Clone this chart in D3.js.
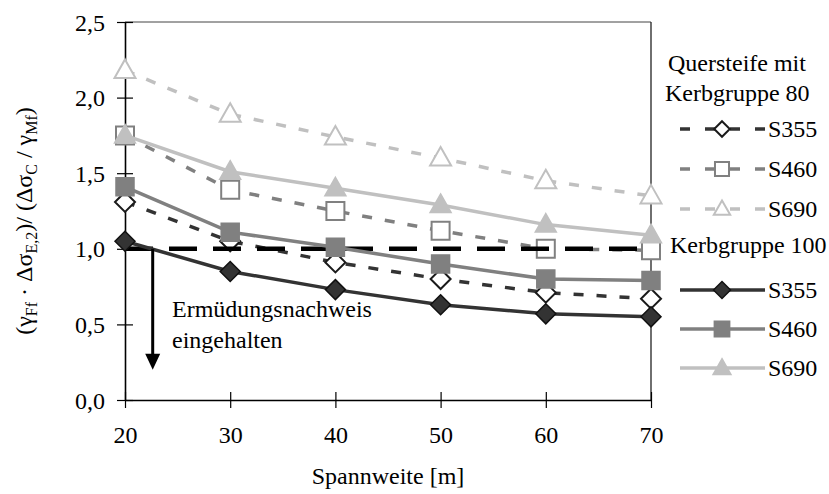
<!DOCTYPE html>
<html>
<head>
<meta charset="utf-8">
<script src="https://cdn.jsdelivr.net/npm/d3@7"></script>
<style>
  body { margin: 0; background: #fff; }
  svg { display: block; }
</style>
</head>
<body>
<svg id="chart" width="829" height="494" font-family="Liberation Serif"></svg>
<script>
// Spannweiten (x-Achse)
const spans = [20, 30, 40, 50, 60, 70];
const yTicks = [0, 0.5, 1.0, 1.5, 2.0, 2.5];

// Quersteife mit Kerbgruppe 80 (offene Marker, gestrichelt)
const kg80_S355 = [1.31, 1.05, 0.91, 0.80, 0.71, 0.67];
const kg80_S460 = [1.75, 1.39, 1.25, 1.12, 1.00, 0.99];
const kg80_S690 = [2.18, 1.89, 1.74, 1.60, 1.45, 1.35];
// Kerbgruppe 100 (gefuellte Marker, durchgezogen)
const kg100_S355 = [1.05, 0.85, 0.73, 0.63, 0.57, 0.55];
const kg100_S460 = [1.41, 1.11, 1.01, 0.90, 0.80, 0.79];
const kg100_S690 = [1.75, 1.51, 1.40, 1.29, 1.16, 1.09];

const limit = 1.0;
const arrowEnd = 0.2;

const FONT = "Liberation Serif";
const FS = 24;

const svg = d3.select("#chart");
const x = d3.scaleLinear().domain([20, 70]).range([125, 651]);
const y = d3.scaleLinear().domain([0, 2.5]).range([400, 22]);

const dark = "#333333", mid = "#808080", light = "#c0c0c0";

const series = [
  { name: "S355", values: kg80_S355, color: dark, stroke: "#1a1a1a", shape: "diamond", open: true },
  { name: "S460", values: kg80_S460, color: mid, stroke: mid, shape: "square", open: true },
  { name: "S690", values: kg80_S690, color: light, stroke: light, shape: "triangle", open: true },
  { name: "S355", values: kg100_S355, color: dark, stroke: "#111", shape: "diamond", open: false },
  { name: "S460", values: kg100_S460, color: mid, stroke: mid, shape: "square", open: false },
  { name: "S690", values: kg100_S690, color: light, stroke: light, shape: "triangle", open: false }
];

function shapePath(shape, s) {
  if (shape === "diamond") return `M0,${-10 * s}L${10 * s},0L0,${10 * s}L${-10 * s},0Z`;
  if (shape === "square") return `M${-9 * s},${-9 * s}H${9 * s}V${9 * s}H${-9 * s}Z`;
  return `M0,${-11 * s}L${10.5 * s},${7.5 * s}L${-10.5 * s},${7.5 * s}Z`;
}

function label(px, py, t) {
  return svg.append("text").attr("x", px).attr("y", py)
    .attr("font-family", FONT).attr("font-size", FS).attr("fill", "#000").text(t);
}

// Rahmen
svg.append("line").attr("x1", x(20)).attr("x2", x(70)).attr("y1", y(2.5)).attr("y2", y(2.5))
  .attr("stroke", "#444").attr("stroke-width", 1);
svg.append("line").attr("x1", x(70)).attr("x2", x(70)).attr("y1", y(2.5)).attr("y2", y(0))
  .attr("stroke", "#222").attr("stroke-width", 1.3);

// Achsen
const yAxis = d3.axisLeft(y).tickValues(yTicks).tickSize(0)
  .tickFormat(d => d3.format(".1f")(d).replace(".", ","));
const gy = svg.append("g").attr("transform", `translate(${x(20)},0)`).call(yAxis)
  .attr("font-family", FONT);
gy.select(".domain").attr("stroke", "#000").attr("stroke-width", 1.6);
gy.selectAll(".tick text").attr("x", -20).attr("dy", "0.34em")
  .attr("font-family", FONT).attr("font-size", FS).attr("fill", "#000");
gy.selectAll(".tick").append("line").attr("x1", -8).attr("x2", 8).attr("stroke", "#000").attr("stroke-width", 1.2);

const xAxis = d3.axisBottom(x).tickValues(spans).tickSize(0).tickFormat(d3.format("d"));
const gx = svg.append("g").attr("transform", `translate(0,${y(0)})`).call(xAxis)
  .attr("font-family", FONT);
gx.select(".domain").attr("stroke", "#000").attr("stroke-width", 1.6);
gx.selectAll(".tick text").attr("y", 43).attr("dy", 0)
  .attr("font-family", FONT).attr("font-size", FS).attr("fill", "#000");
gx.selectAll(".tick").append("line").attr("y1", -8).attr("y2", 8).attr("stroke", "#000").attr("stroke-width", 1.2);

const line = d3.line().x((d, i) => x(spans[i])).y(d => y(d));

function drawSeries(s) {
  svg.append("path").datum(s.values).attr("d", line)
    .attr("fill", "none").attr("stroke", s.color).attr("stroke-width", 3.5)
    .attr("stroke-dasharray", s.open ? "10,13" : null);
  svg.append("g").selectAll("path").data(s.values).join("path")
    .attr("transform", (d, i) => `translate(${x(spans[i])},${y(d)})`)
    .attr("d", shapePath(s.shape, 1))
    .attr("fill", s.open ? "#fff" : s.color)
    .attr("stroke", s.stroke).attr("stroke-width", s.open ? 2 : 1.5);
}

// gestrichelte Reihen zuerst
series.filter(s => s.open).forEach(drawSeries);

// Grenzlinie 1,0
svg.append("line").attr("x1", x(20)).attr("x2", x(70)).attr("y1", y(limit)).attr("y2", y(limit))
  .attr("stroke", "#000").attr("stroke-width", 4.5).attr("stroke-dasharray", "28,16");

series.filter(s => !s.open).forEach(drawSeries);

// Pfeil
const ax = 152.7;
svg.append("line").attr("x1", ax).attr("x2", ax).attr("y1", y(limit)).attr("y2", y(arrowEnd) - 14)
  .attr("stroke", "#000").attr("stroke-width", 3);
svg.append("path")
  .attr("d", `M${ax - 7.5},${y(arrowEnd) - 16}L${ax + 7.5},${y(arrowEnd) - 16}L${ax},${y(arrowEnd)}Z`)
  .attr("fill", "#000");

label(172, 317, "Ermüdungsnachweis");
label(172, 348, "eingehalten");

// Achsentitel
label(388, 484, "Spannweite [m]").attr("text-anchor", "middle");

const yl = svg.append("text").attr("transform", "translate(32,221) rotate(-90)")
  .attr("text-anchor", "middle").attr("font-family", FONT).attr("font-size", FS);
const parts = [
  ["(γ", false], ["Ff", true], [" · Δσ", false], ["E,2", true], [")/ (Δσ", false],
  ["C", true], [" / γ", false], ["Mf", true], [")", false]
];
let sub = false;
parts.forEach(([t, isSub]) => {
  const ts = yl.append("tspan").text(t);
  if (isSub) ts.attr("font-size", 16);
  if (isSub !== sub) ts.attr("dy", isSub ? 5 : -5);
  sub = isSub;
});

// Legende
label(668, 71, "Quersteife mit");
label(665, 101, "Kerbgruppe 80");
label(670, 253, "Kerbgruppe 100");

const legendY = [129, 169, 209, 290, 329, 368];
series.forEach((s, i) => {
  const ly = legendY[i];
  svg.append("line").attr("x1", 680).attr("x2", 765).attr("y1", ly).attr("y2", ly)
    .attr("stroke", s.color).attr("stroke-width", 3.5)
    .attr("stroke-dasharray", s.open ? "10,15" : null);
  svg.append("path").attr("transform", `translate(722,${ly})`)
    .attr("d", shapePath(s.shape, s.open ? 0.78 : 0.85))
    .attr("fill", s.open ? "#fff" : s.color)
    .attr("stroke", s.stroke).attr("stroke-width", s.open ? 2 : 1.5);
  label(768, ly + 8, s.name);
});
</script>
</body>
</html>
